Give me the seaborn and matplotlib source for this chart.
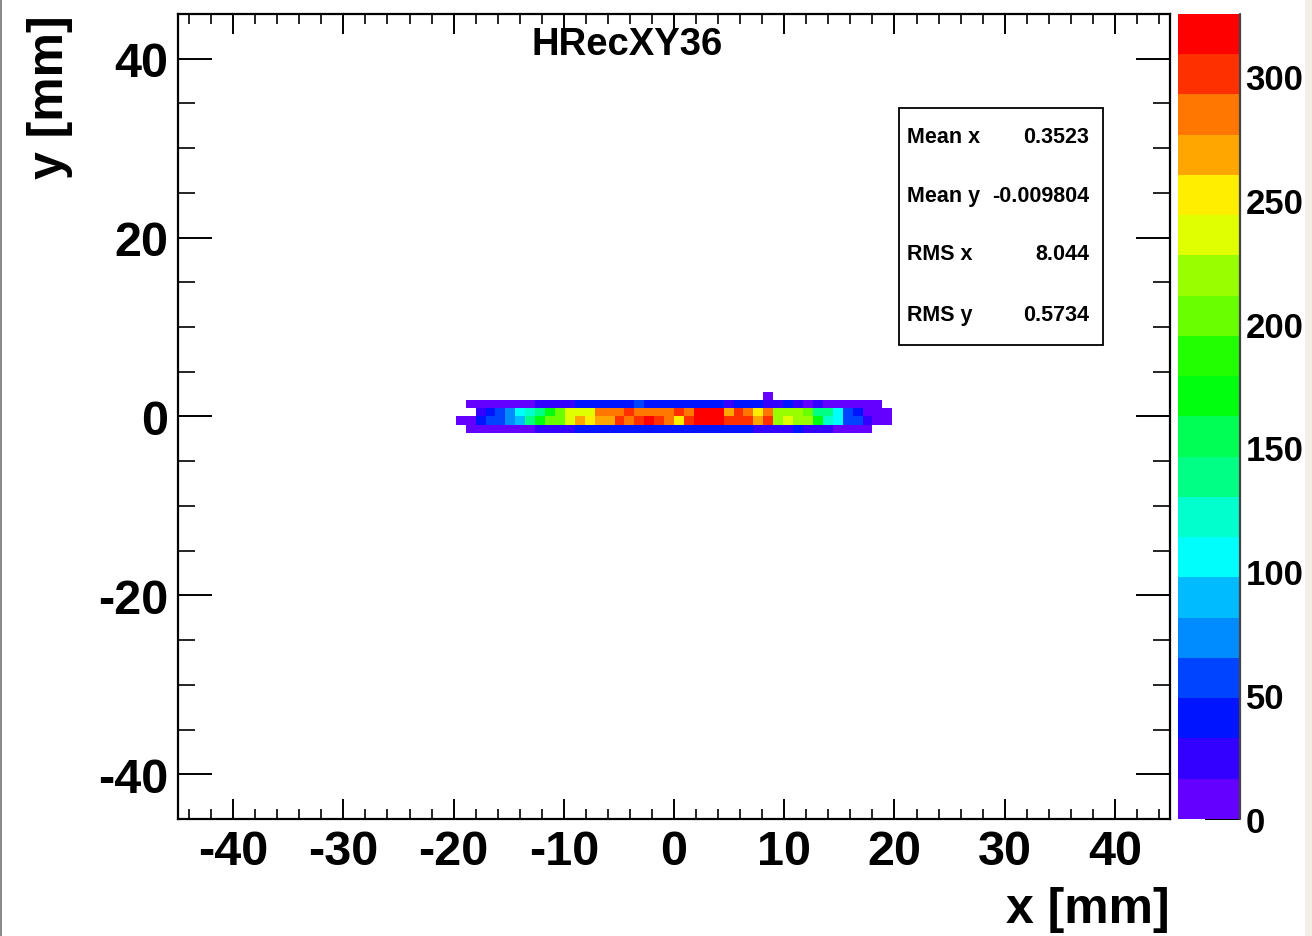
import numpy as np
import pandas as pd
import matplotlib
matplotlib.use("Agg")
import matplotlib.pyplot as plt
import seaborn as sns
from matplotlib.colors import ListedColormap
from matplotlib.patches import Rectangle
from matplotlib.ticker import MultipleLocator

# ---------------- data (bin contents) ----------------
# x bin centres of the occupied region, 0.9 mm bins from -19.8 to 19.8 mm
x_centers = np.round(np.arange(-19.35, 19.8, 0.9), 2)
# y bin centres of the occupied rows
y_centers = [2.25, 1.35, 0.45, -0.45, -1.35]

row_y_2p25 = [0, 0, 0, 0, 0, 0, 0, 0, 0, 0, 0, 0, 0, 0, 0, 0, 0, 0, 0, 0, 0, 0,
              0, 0, 0, 0, 0, 0, 0, 0, 0, 8, 0, 0, 0, 0, 0, 0, 0, 0, 0, 0, 0, 0]
row_y_1p35 = [0, 8, 8, 8, 8, 8, 8, 8, 24, 24, 24, 24, 41, 41, 41, 41, 41, 41, 57, 41, 41, 41,
              41, 41, 41, 41, 41, 24, 41, 41, 41, 24, 24, 41, 24, 8, 24, 8, 8, 8, 8, 8, 8, 0]
row_y_0p45 = [0, 0, 24, 41, 57, 73, 106, 122, 138, 171, 203, 236, 236, 236, 284, 284, 284, 301, 284, 284, 284, 284,
              301, 284, 317, 317, 317, 268, 301, 284, 252, 284, 219, 219, 219, 203, 138, 138, 106, 57, 41, 8, 8, 8]
row_y_m0p45 = [8, 8, 41, 57, 57, 73, 89, 138, 171, 203, 203, 236, 268, 252, 268, 268, 301, 284, 301, 317, 301, 284,
               252, 301, 317, 317, 317, 301, 301, 301, 268, 301, 219, 236, 219, 219, 171, 122, 106, 57, 57, 24, 8, 8]
row_y_m1p35 = [0, 8, 8, 8, 8, 8, 8, 8, 24, 24, 24, 24, 41, 41, 41, 41, 41, 41, 41, 41, 41, 41,
               41, 41, 41, 41, 41, 41, 41, 41, 24, 24, 24, 24, 41, 24, 24, 24, 8, 8, 8, 8, 0, 0]
rows = [row_y_2p25, row_y_1p35, row_y_0p45, row_y_m0p45, row_y_m1p35]

x_tick_values = [-40, -30, -20, -10, 0, 10, 20, 30, 40]
y_tick_values = [-40, -20, 0, 20, 40]
z_tick_values = [0, 50, 100, 150, 200, 250, 300]

stats_names = ["Mean x", "Mean y", "RMS x", "RMS y"]
stats_values = ["0.3523", "-0.009804", "8.044", "0.5734"]

title_text = "HRecXY36"

# ROOT "pretty" palette, 20 contour levels
level_colors = ["#6300ff", "#3300ff", "#0014ff", "#0044ff", "#008bff",
                "#00bbff", "#00fffc", "#00ffcc", "#00ff85", "#00ff55",
                "#00ff0e", "#22ff00", "#69ff00", "#99ff00", "#e0ff00",
                "#ffee00", "#ffa700", "#ff7700", "#ff3000", "#ff0000"]
z_max = 325

# ---------------- build long table ----------------
records = []
for yc, row in zip(y_centers, rows):
    for xc, c in zip(x_centers, row):
        if c > 0:
            records.append({"x": xc, "y": yc, "counts": c})
df = pd.DataFrame(records)

# ---------------- style ----------------
sns.set_theme(style="ticks")
plt.rcParams["font.family"] = ["Liberation Sans", "DejaVu Sans"]
plt.rcParams["font.weight"] = "bold"
plt.rcParams["axes.unicode_minus"] = False
plt.rcParams["axes.linewidth"] = 1.6
plt.rcParams["text.color"] = "black"
plt.rcParams["axes.labelcolor"] = "black"
plt.rcParams["axes.titlecolor"] = "black"
plt.rcParams["xtick.color"] = "black"
plt.rcParams["ytick.color"] = "black"
plt.rcParams["xtick.labelcolor"] = "black"
plt.rcParams["ytick.labelcolor"] = "black"

fig = plt.figure(figsize=(13.12, 9.37), dpi=100)
fig.patch.set_facecolor("white")
ax = fig.add_axes([0.1357, 0.1249, 0.7561, 0.8591])
cax = fig.add_axes([0.8979, 0.1249, 0.0473, 0.8591])

edges = np.linspace(-45, 45, 101)
cmap = ListedColormap(level_colors)
sns.histplot(data=df, x="x", y="y", weights="counts", bins=(edges, edges),
             cmap=cmap, vmin=0, vmax=z_max, ax=ax, cbar=False,
             linewidth=0, antialiased=False)

ax.set_xlim(-45, 45)
ax.set_ylim(-45, 45)
ax.set_xticks(x_tick_values)
ax.set_yticks(y_tick_values)
ax.xaxis.set_minor_locator(MultipleLocator(2))
ax.yaxis.set_minor_locator(MultipleLocator(5))
ax.set_xticklabels([str(v) for v in x_tick_values])
ax.set_yticklabels([str(v) for v in y_tick_values])
for s in ax.spines.values():
    s.set_visible(True)
    s.set_color("black")
    s.set_linewidth(1.6)

ax.tick_params(axis="x", which="major", direction="in", length=14.5, width=1.4,
               top=True, bottom=True, labelsize=35, pad=7, colors="black")
ax.tick_params(axis="x", which="minor", direction="in", length=7, width=1.2,
               top=True, bottom=True, colors="black")
ax.tick_params(axis="y", which="major", direction="in", length=24.5, width=1.4,
               left=True, right=True, labelsize=35, pad=7, colors="black")
ax.tick_params(axis="y", which="minor", direction="in", length=12.5, width=1.2,
               left=True, right=True, colors="black")
for lab in ax.get_xticklabels() + ax.get_yticklabels():
    lab.set_fontweight("bold")
    lab.set_color("black")

ax.set_xlabel("x [mm]", loc="right", fontsize=36, fontweight="bold", va="center",
              color="black")
ax.xaxis.set_label_coords(1.0, -0.1118)
ax.set_ylabel("y [mm]", loc="top", fontsize=36, fontweight="bold", va="center",
              color="black")
ax.yaxis.set_label_coords(-0.129, 1.0)

ax.set_title(title_text, x=0.4526, y=0.9627, va="center", pad=0,
             fontsize=27.5, fontweight="bold", color="black")

# statistics box
ax.add_patch(Rectangle((0.7268, 0.5888), 0.9325 - 0.7268, 0.8832 - 0.5888,
                       transform=ax.transAxes, facecolor="white",
                       edgecolor="black", linewidth=1.3, zorder=5))
for name, val, yy in zip(stats_names, stats_values, [0.8484, 0.7739, 0.7019, 0.6273]):
    ax.text(0.7349, yy, name, transform=ax.transAxes, ha="left", va="center",
            fontsize=15.5, fontweight="bold", color="black", zorder=6)
    ax.text(0.9183, yy, val, transform=ax.transAxes, ha="right", va="center",
            fontsize=15.5, fontweight="bold", color="black", zorder=6)

# colour bar
cb = fig.colorbar(ax.collections[0], cax=cax)
cb.set_ticks(z_tick_values)
cb.set_ticklabels([str(v) for v in z_tick_values])
cb.outline.set_visible(False)
cax.yaxis.set_ticks_position("right")
cax.tick_params(axis="y", which="major", direction="in", length=25, width=1.4,
                labelsize=25, pad=4, colors="black")
cax.minorticks_off()
for lab in cax.get_yticklabels():
    lab.set_fontweight("bold")
    lab.set_color("black")
cax.plot([1, 1], [0, 1], transform=cax.transAxes, color="#444444", lw=1.6,
         clip_on=False, zorder=10)

# outer frame of the picture
fig.patches.append(Rectangle((0, 0), 2.0 / 1312, 1, transform=fig.transFigure,
                             facecolor="#8a8a8a", edgecolor="none"))
fig.patches.append(Rectangle((1305.0 / 1312, 0), 7.0 / 1312, 1, transform=fig.transFigure,
                             facecolor="#f3efe8", edgecolor="none"))

fig.savefig("out.png", dpi=100)
